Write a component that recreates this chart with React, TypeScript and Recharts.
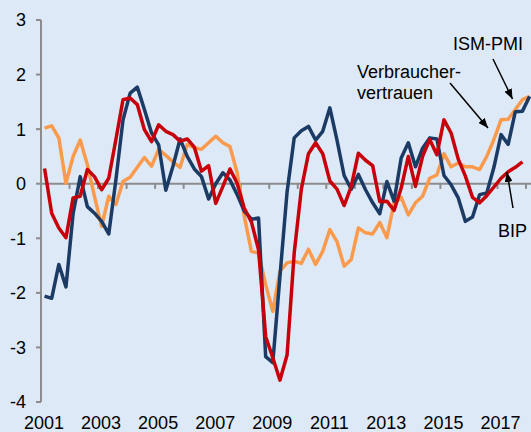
import React from 'react';
import { LineChart, Line, XAxis, YAxis, ReferenceLine } from 'recharts';

// Quarterly data, first quarter = 2001 Q1
const START_YEAR = 2001;

const ismPmi = [
  -2.06, -2.1, -1.48, -1.89, -0.55, 0.13, -0.42, -0.54,
  -0.69, -0.92, 0.07, 1.17, 1.66, 1.77, 1.36, 0.93,
  0.71, -0.12, 0.32, 0.82, 0.5, 0.27, 0.13, -0.28,
  0.0, 0.2, 0.07, -0.2, -0.5, -0.65, -0.63, -3.17,
  -3.28, -1.7, -0.15, 0.84, 0.97, 1.05, 0.8, 0.96,
  1.39, 0.8, 0.15, -0.1, 0.17, -0.11, -0.35, -0.55,
  0.04, -0.32, 0.47, 0.75, 0.31, 0.65, 0.84, 0.82,
  0.15, -0.02, -0.26, -0.69, -0.61, -0.2, -0.17, 0.3,
  0.9, 0.72, 1.32, 1.33, 1.6,
];

const verbrauchervertrauen = [
  1.02, 1.06, 0.84, 0.01, 0.5, 0.8, 0.35, -0.23,
  -0.78, -0.23, -0.38, 0.04, 0.12, 0.3, 0.48, 0.32,
  0.63, 0.52, 0.4, 0.3, 0.72, 0.66, 0.63, 0.75,
  0.87, 0.75, 0.68, 0.2, -0.6, -1.24, -1.27, -1.85,
  -2.34, -1.6, -1.45, -1.42, -1.46, -1.2, -1.48, -1.24,
  -0.84, -1.06, -1.51, -1.39, -0.81, -0.9, -0.92, -0.71,
  -0.99, -0.35, -0.25, -0.57, -0.35, -0.23, 0.1, 0.16,
  0.55, 0.31, 0.38, 0.31, 0.31, 0.26, 0.5, 0.81,
  1.17, 1.18, 1.36, 1.54, 1.6,
];

const bip = [
  0.28, -0.54, -0.81, -0.99, -0.26, -0.23, 0.26, 0.13,
  -0.11, 0.1, 0.81, 1.54, 1.57, 1.45, 0.99, 0.77,
  1.08, 0.96, 0.9, 0.78, 0.82, 0.67, 0.23, 0.33,
  -0.36, -0.05, 0.27, 0.01, -0.45, -0.7, -1.21, -2.8,
  -3.19, -3.6, -3.14, -1.27, -0.1, 0.55, 0.75, 0.55,
  0.05, -0.1, -0.4, -0.05, 0.56, 0.43, 0.33, -0.33,
  -0.32, -0.49, -0.08, 0.5, -0.05, 0.5, 0.81, 0.53,
  1.17, 0.93, 0.45, 0.14, -0.25, -0.35, -0.22, -0.06,
  0.1, 0.22, 0.3, 0.4,
];

const xLabelYears = [2001, 2003, 2005, 2007, 2009, 2011, 2013, 2015, 2017];
const yearTickMarks = [2002, 2003, 2004, 2005, 2006, 2007, 2008, 2009, 2010, 2011, 2012, 2013, 2014, 2015, 2016, 2017, 2018];
const yTicks = [-4, -3, -2, -1, 0, 1, 2, 3];

const rows = ismPmi.map((v, i) => ({
  t: START_YEAR + (i + 0.5) / 4,
  ism: v,
  cons: verbrauchervertrauen[i],
  bip: i < bip.length ? bip[i] : null,
}));

const FONT = '"Liberation Sans", Arial, sans-serif';
const BG = '#dde9f7';
const AXIS = '#8c8c8c';

export default function App() {
  return (
    <div style={{ position: 'absolute', left: 0, top: 0, width: 531, height: 432, background: BG, fontFamily: FONT }}>
      <LineChart width={531} height={432} data={rows} margin={{ top: 20, right: 0, bottom: 0, left: 0 }}>
        <XAxis
          dataKey="t"
          type="number"
          domain={[2001, 2018.175]}
          ticks={xLabelYears}
          axisLine={false}
          tickLine={false}
          tickSize={5}
          tickMargin={9}
          height={30}
          interval={0}
          tick={{ fill: '#000', fontSize: 18, fontFamily: FONT, dx: 3 }}
        />
        <YAxis
          type="number"
          domain={[-4, 3]}
          ticks={yTicks}
          width={41}
          interval={0}
          axisLine={{ stroke: AXIS, strokeWidth: 2 }}
          tickLine={{ stroke: AXIS, strokeWidth: 2 }}
          tickSize={5}
          tickMargin={10}
          tick={{ fill: '#000', fontSize: 18, fontFamily: FONT }}
        />
        <ReferenceLine y={0} stroke={AXIS} strokeWidth={2} />
        {yearTickMarks.map((yr) => (
          <ReferenceLine
            key={yr}
            segment={[{ x: yr, y: 0 }, { x: yr, y: -0.095 }]}
            stroke={AXIS}
            strokeWidth={2}
          />
        ))}
        <Line type="linear" dataKey="cons" stroke="#fa9a4c" strokeWidth={3.5} dot={false} isAnimationActive={false} strokeLinejoin="round" />
        <Line type="linear" dataKey="ism" stroke="#1b3a64" strokeWidth={3.5} dot={false} isAnimationActive={false} strokeLinejoin="round" />
        <Line type="linear" dataKey="bip" stroke="#c8000a" strokeWidth={3.5} dot={false} isAnimationActive={false} strokeLinejoin="round" />
      </LineChart>
      <svg width={531} height={432} style={{ position: 'absolute', left: 0, top: 0, pointerEvents: 'none' }}>
        <defs>
          <marker id="arr" viewBox="0 0 10 8" refX="10" refY="4" markerWidth="10" markerHeight="8" markerUnits="userSpaceOnUse" orient="auto">
            <path d="M0,0 L10,4 L0,8 z" fill="#000" />
          </marker>
        </defs>
        <text x={453} y={50} fontSize={18} fontFamily={FONT} fill="#000">ISM-PMI</text>
        <text x={357} y={78} fontSize={18} fontFamily={FONT} fill="#000">Verbraucher-</text>
        <text x={357} y={99} fontSize={18} fontFamily={FONT} fill="#000">vertrauen</text>
        <text x={498} y={237} fontSize={18} fontFamily={FONT} fill="#000">BIP</text>
        <line x1={493} y1={59} x2={512.5} y2={99} stroke="#000" strokeWidth={1.5} markerEnd="url(#arr)" />
        <line x1={450} y1={83} x2={488} y2={128} stroke="#000" strokeWidth={1.5} markerEnd="url(#arr)" />
        <line x1={513} y1={208} x2={507} y2={172} stroke="#000" strokeWidth={1.5} markerEnd="url(#arr)" />
      </svg>
    </div>
  );
}
